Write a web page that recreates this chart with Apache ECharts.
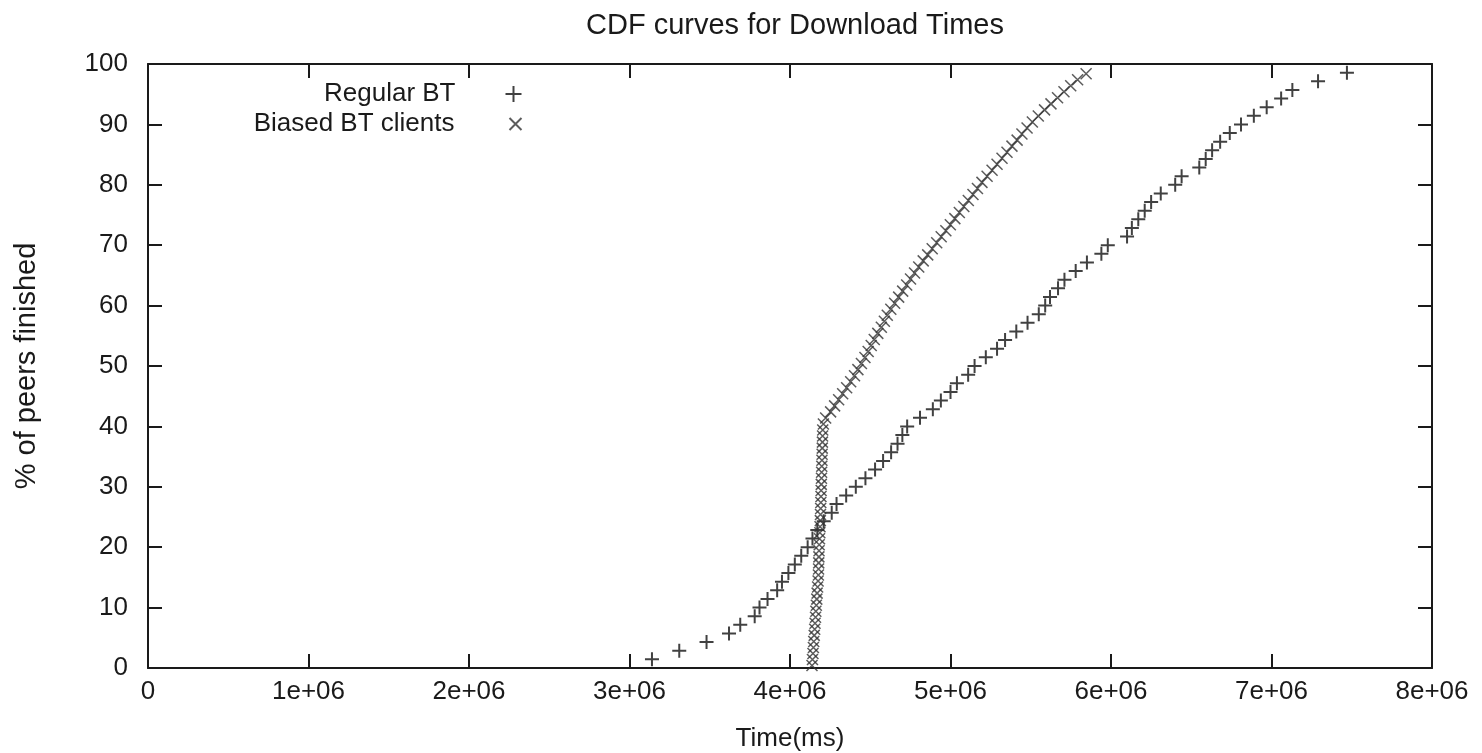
<!DOCTYPE html>
<html>
<head>
<meta charset="utf-8">
<title>CDF curves for Download Times</title>
<script src="https://cdn.jsdelivr.net/npm/echarts@6/dist/echarts.min.js"></script>
<style>
  html, body { margin: 0; padding: 0; background: #fff; }
  #main { width: 1482px; height: 753px; }
</style>
</head>
<body>
<div id="main"></div>
<script>
// download finish times (ms) and cumulative % of peers
var regularTime = [
  3140000, 3310000, 3480000, 3620000, 3690000, 3780000, 3810000, 3860000, 3920000, 3950000,
  3990000, 4030000, 4070000, 4110000, 4140000, 4170000, 4210000, 4260000, 4290000, 4350000,
  4410000, 4470000, 4530000, 4580000, 4630000, 4670000, 4700000, 4730000, 4810000, 4890000,
  4940000, 5000000, 5040000, 5110000, 5150000, 5220000, 5290000, 5340000, 5410000, 5480000,
  5550000, 5590000, 5620000, 5670000, 5710000, 5780000, 5850000, 5940000, 5980000, 6100000,
  6130000, 6170000, 6210000, 6250000, 6310000, 6400000, 6440000, 6550000, 6590000, 6630000,
  6680000, 6740000, 6810000, 6890000, 6970000, 7060000, 7130000, 7290000, 7470000
];
var regularPct = [
  1.43, 2.86, 4.29, 5.71, 7.14, 8.57, 10.0, 11.43, 12.86, 14.29,
  15.71, 17.14, 18.57, 20.0, 21.43, 22.86, 24.29, 25.71, 27.14, 28.57,
  30.0, 31.43, 32.86, 34.29, 35.71, 37.14, 38.57, 40.0, 41.43, 42.86,
  44.29, 45.71, 47.14, 48.57, 50.0, 51.43, 52.86, 54.29, 55.71, 57.14,
  58.57, 60.0, 61.43, 62.86, 64.29, 65.71, 67.14, 68.57, 70.0, 71.43,
  72.86, 74.29, 75.71, 77.14, 78.57, 80.0, 81.43, 82.86, 84.29, 85.71,
  87.14, 88.57, 90.0, 91.43, 92.86, 94.29, 95.71, 97.14, 98.57
];
var biasedTime = [
  4137000, 4140000, 4143000, 4146000, 4148000, 4151000, 4154000, 4156000, 4159000, 4161000,
  4164000, 4167000, 4169000, 4172000, 4175000, 4177000, 4178000, 4179000, 4180000, 4181000,
  4182000, 4184000, 4186000, 4187000, 4189000, 4190000, 4191000, 4192000, 4193000, 4194000,
  4195000, 4196000, 4197000, 4198000, 4199000, 4200000, 4201000, 4202000, 4203000, 4204000,
  4208000, 4222000, 4253000, 4278000, 4303000, 4328000, 4353000, 4378000, 4402000, 4423000,
  4445000, 4467000, 4487000, 4506000, 4525000, 4547000, 4569000, 4588000, 4606000, 4628000,
  4652000, 4677000, 4702000, 4727000, 4751000, 4776000, 4802000, 4830000, 4858000, 4886000,
  4914000, 4942000, 4971000, 4999000, 5027000, 5055000, 5083000, 5111000, 5140000, 5168000,
  5196000, 5228000, 5259000, 5290000, 5321000, 5352000, 5383000, 5415000, 5445000, 5477000,
  5510000, 5547000, 5586000, 5626000, 5667000, 5707000, 5749000, 5792000, 5845000
];
var biasedPct = [
  0.4, 1.4, 2.4, 3.4, 4.4, 5.4, 6.4, 7.4, 8.4, 9.4,
  10.4, 11.4, 12.4, 13.4, 14.4, 15.4, 16.4, 17.4, 18.4, 19.4,
  20.4, 21.4, 22.4, 23.4, 24.4, 25.4, 26.4, 27.4, 28.4, 29.4,
  30.4, 31.4, 32.4, 33.4, 34.4, 35.4, 36.4, 37.4, 38.4, 39.4,
  40.4, 41.4, 42.4, 43.4, 44.4, 45.4, 46.4, 47.4, 48.4, 49.4,
  50.4, 51.4, 52.4, 53.4, 54.4, 55.4, 56.4, 57.4, 58.4, 59.4,
  60.4, 61.4, 62.4, 63.4, 64.4, 65.4, 66.4, 67.4, 68.4, 69.4,
  70.4, 71.4, 72.4, 73.4, 74.4, 75.4, 76.4, 77.4, 78.4, 79.4,
  80.4, 81.4, 82.4, 83.4, 84.4, 85.4, 86.4, 87.4, 88.4, 89.4,
  90.4, 91.4, 92.4, 93.4, 94.4, 95.4, 96.4, 97.4, 98.4
];
var xTickLabels = ['0', '1e+06', '2e+06', '3e+06', '4e+06', '5e+06', '6e+06', '7e+06', '8e+06'];

function pairs(xs, ys) {
  return xs.map(function (x, i) { return [x, ys[i]]; });
}

var FONT = '"Liberation Sans", Arial, Helvetica, sans-serif';
var INK = '#1a1a1a';
var plusSym = 'path://M0,5L10,5M5,0L5,10';
var crossSym = 'path://M0,0L10,10M10,0L0,10';

// gnuplot style border: lines on all four sides, ticks pointing inwards
var axisLine = { show: true, onZero: false, lineStyle: { color: INK, width: 2 } };
var tickIn = { show: true, inside: true, length: 14, lineStyle: { color: INK, width: 2 } };

var myChart = echarts.init(document.getElementById('main'));

var option = {
  backgroundColor: '#fff',
  animation: false,
  textStyle: { fontFamily: FONT, color: INK },
  title: {
    text: 'CDF curves for Download Times',
    left: 790,
    top: 6,
    textAlign: 'center',
    textStyle: { fontFamily: FONT, fontSize: 29, fontWeight: 'normal', color: INK }
  },
  grid: { left: 148, right: 50, top: 64, bottom: 85, outerBoundsMode: 'none', containLabel: false },
  legend: [{
    data: ['Regular BT'],
    right: 953, top: 76,
    align: 'right',
    itemWidth: 16, itemHeight: 16, itemGap: 0,
    textStyle: { fontFamily: FONT, fontSize: 26, color: INK, padding: [0, 45, 0, 0] }
  }, {
    data: ['Biased BT clients'],
    right: 953, top: 106,
    align: 'right',
    itemWidth: 12, itemHeight: 12, itemGap: 0,
    textStyle: { fontFamily: FONT, fontSize: 26, color: INK, padding: [0, 50, 0, 0] }
  }],
  xAxis: [{
    type: 'value', position: 'bottom',
    min: 0, max: 8000000, interval: 1000000,
    name: 'Time(ms)', nameLocation: 'middle', nameGap: 58,
    nameTextStyle: { fontFamily: FONT, fontSize: 26, color: INK },
    axisLine: axisLine, axisTick: tickIn,
    axisLabel: {
      fontFamily: FONT, fontSize: 26, color: INK, margin: 11,
      formatter: function (v) { return xTickLabels[Math.round(v / 1000000)]; }
    },
    splitLine: { show: false }
  }, {
    type: 'value', position: 'top',
    min: 0, max: 8000000, interval: 1000000,
    axisLine: axisLine, axisTick: tickIn,
    axisLabel: { show: false }, splitLine: { show: false }
  }],
  yAxis: [{
    type: 'value', position: 'left',
    min: 0, max: 100, interval: 10,
    name: '% of peers finished', nameLocation: 'middle', nameGap: 107,
    nameTextStyle: { fontFamily: FONT, fontSize: 29, color: INK },
    axisLine: axisLine, axisTick: tickIn,
    axisLabel: { fontFamily: FONT, fontSize: 26, color: INK, margin: 20 },
    splitLine: { show: false }
  }, {
    type: 'value', position: 'right',
    min: 0, max: 100, interval: 10,
    axisLine: axisLine, axisTick: tickIn,
    axisLabel: { show: false }, splitLine: { show: false }
  }],
  series: [{
    name: 'Regular BT',
    type: 'scatter',
    xAxisIndex: 0, yAxisIndex: 0,
    symbol: plusSym, symbolSize: 14,
    itemStyle: { color: 'none', borderColor: '#111', borderWidth: 2 },
    data: pairs(regularTime, regularPct)
  }, {
    name: 'Biased BT clients',
    type: 'scatter',
    xAxisIndex: 0, yAxisIndex: 0,
    symbol: crossSym, symbolSize: 11,
    itemStyle: { color: 'none', borderColor: '#333', borderWidth: 1.5 },
    data: pairs(biasedTime, biasedPct)
  }]
};

myChart.setOption(option);
</script>
</body>
</html>
